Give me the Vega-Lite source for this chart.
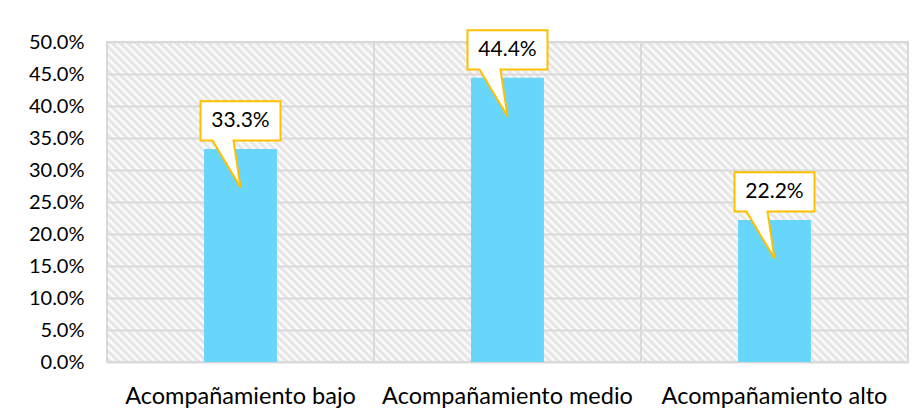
{
  "$schema": "https://vega.github.io/schema/vega-lite/v6.json",
  "width": 801,
  "height": 320,
  "autosize": {"type": "none"},
  "padding": {"left": 107, "top": 42, "right": 15, "bottom": 57},
  "background": "white",
  "config": {
    "view": {
      "stroke": "#d9d9d9",
      "strokeWidth": 2,
      "fill": {
        "gradient": "linear", "x1": 0, "y1": 1, "x2": 1.2069, "y2": 0.51785,
        "stops": [
          {"offset":0,"color":"#fff"},{"offset":0.00357,"color":"#e0e0e0"},{"offset":0.00714,"color":"#fff"},{"offset":0.01071,"color":"#e0e0e0"},{"offset":0.01429,"color":"#fff"},{"offset":0.01786,"color":"#e0e0e0"},{"offset":0.02143,"color":"#fff"},
          {"offset":0.025,"color":"#e0e0e0"},{"offset":0.02857,"color":"#fff"},{"offset":0.03214,"color":"#e0e0e0"},{"offset":0.03571,"color":"#fff"},{"offset":0.03929,"color":"#e0e0e0"},{"offset":0.04286,"color":"#fff"},{"offset":0.04643,"color":"#e0e0e0"},
          {"offset":0.05,"color":"#fff"},{"offset":0.05357,"color":"#e0e0e0"},{"offset":0.05714,"color":"#fff"},{"offset":0.06071,"color":"#e0e0e0"},{"offset":0.06429,"color":"#fff"},{"offset":0.06786,"color":"#e0e0e0"},{"offset":0.07143,"color":"#fff"},
          {"offset":0.075,"color":"#e0e0e0"},{"offset":0.07857,"color":"#fff"},{"offset":0.08214,"color":"#e0e0e0"},{"offset":0.08571,"color":"#fff"},{"offset":0.08929,"color":"#e0e0e0"},{"offset":0.09286,"color":"#fff"},{"offset":0.09643,"color":"#e0e0e0"},
          {"offset":0.1,"color":"#fff"},{"offset":0.10357,"color":"#e0e0e0"},{"offset":0.10714,"color":"#fff"},{"offset":0.11071,"color":"#e0e0e0"},{"offset":0.11429,"color":"#fff"},{"offset":0.11786,"color":"#e0e0e0"},{"offset":0.12143,"color":"#fff"},
          {"offset":0.125,"color":"#e0e0e0"},{"offset":0.12857,"color":"#fff"},{"offset":0.13214,"color":"#e0e0e0"},{"offset":0.13571,"color":"#fff"},{"offset":0.13929,"color":"#e0e0e0"},{"offset":0.14286,"color":"#fff"},{"offset":0.14643,"color":"#e0e0e0"},
          {"offset":0.15,"color":"#fff"},{"offset":0.15357,"color":"#e0e0e0"},{"offset":0.15714,"color":"#fff"},{"offset":0.16071,"color":"#e0e0e0"},{"offset":0.16429,"color":"#fff"},{"offset":0.16786,"color":"#e0e0e0"},{"offset":0.17143,"color":"#fff"},
          {"offset":0.175,"color":"#e0e0e0"},{"offset":0.17857,"color":"#fff"},{"offset":0.18214,"color":"#e0e0e0"},{"offset":0.18571,"color":"#fff"},{"offset":0.18929,"color":"#e0e0e0"},{"offset":0.19286,"color":"#fff"},{"offset":0.19643,"color":"#e0e0e0"},
          {"offset":0.2,"color":"#fff"},{"offset":0.20357,"color":"#e0e0e0"},{"offset":0.20714,"color":"#fff"},{"offset":0.21071,"color":"#e0e0e0"},{"offset":0.21429,"color":"#fff"},{"offset":0.21786,"color":"#e0e0e0"},{"offset":0.22143,"color":"#fff"},
          {"offset":0.225,"color":"#e0e0e0"},{"offset":0.22857,"color":"#fff"},{"offset":0.23214,"color":"#e0e0e0"},{"offset":0.23571,"color":"#fff"},{"offset":0.23929,"color":"#e0e0e0"},{"offset":0.24286,"color":"#fff"},{"offset":0.24643,"color":"#e0e0e0"},
          {"offset":0.25,"color":"#fff"},{"offset":0.25357,"color":"#e0e0e0"},{"offset":0.25714,"color":"#fff"},{"offset":0.26071,"color":"#e0e0e0"},{"offset":0.26429,"color":"#fff"},{"offset":0.26786,"color":"#e0e0e0"},{"offset":0.27143,"color":"#fff"},
          {"offset":0.275,"color":"#e0e0e0"},{"offset":0.27857,"color":"#fff"},{"offset":0.28214,"color":"#e0e0e0"},{"offset":0.28571,"color":"#fff"},{"offset":0.28929,"color":"#e0e0e0"},{"offset":0.29286,"color":"#fff"},{"offset":0.29643,"color":"#e0e0e0"},
          {"offset":0.3,"color":"#fff"},{"offset":0.30357,"color":"#e0e0e0"},{"offset":0.30714,"color":"#fff"},{"offset":0.31071,"color":"#e0e0e0"},{"offset":0.31429,"color":"#fff"},{"offset":0.31786,"color":"#e0e0e0"},{"offset":0.32143,"color":"#fff"},
          {"offset":0.325,"color":"#e0e0e0"},{"offset":0.32857,"color":"#fff"},{"offset":0.33214,"color":"#e0e0e0"},{"offset":0.33571,"color":"#fff"},{"offset":0.33929,"color":"#e0e0e0"},{"offset":0.34286,"color":"#fff"},{"offset":0.34643,"color":"#e0e0e0"},
          {"offset":0.35,"color":"#fff"},{"offset":0.35357,"color":"#e0e0e0"},{"offset":0.35714,"color":"#fff"},{"offset":0.36071,"color":"#e0e0e0"},{"offset":0.36429,"color":"#fff"},{"offset":0.36786,"color":"#e0e0e0"},{"offset":0.37143,"color":"#fff"},
          {"offset":0.375,"color":"#e0e0e0"},{"offset":0.37857,"color":"#fff"},{"offset":0.38214,"color":"#e0e0e0"},{"offset":0.38571,"color":"#fff"},{"offset":0.38929,"color":"#e0e0e0"},{"offset":0.39286,"color":"#fff"},{"offset":0.39643,"color":"#e0e0e0"},
          {"offset":0.4,"color":"#fff"},{"offset":0.40357,"color":"#e0e0e0"},{"offset":0.40714,"color":"#fff"},{"offset":0.41071,"color":"#e0e0e0"},{"offset":0.41429,"color":"#fff"},{"offset":0.41786,"color":"#e0e0e0"},{"offset":0.42143,"color":"#fff"},
          {"offset":0.425,"color":"#e0e0e0"},{"offset":0.42857,"color":"#fff"},{"offset":0.43214,"color":"#e0e0e0"},{"offset":0.43571,"color":"#fff"},{"offset":0.43929,"color":"#e0e0e0"},{"offset":0.44286,"color":"#fff"},{"offset":0.44643,"color":"#e0e0e0"},
          {"offset":0.45,"color":"#fff"},{"offset":0.45357,"color":"#e0e0e0"},{"offset":0.45714,"color":"#fff"},{"offset":0.46071,"color":"#e0e0e0"},{"offset":0.46429,"color":"#fff"},{"offset":0.46786,"color":"#e0e0e0"},{"offset":0.47143,"color":"#fff"},
          {"offset":0.475,"color":"#e0e0e0"},{"offset":0.47857,"color":"#fff"},{"offset":0.48214,"color":"#e0e0e0"},{"offset":0.48571,"color":"#fff"},{"offset":0.48929,"color":"#e0e0e0"},{"offset":0.49286,"color":"#fff"},{"offset":0.49643,"color":"#e0e0e0"},
          {"offset":0.5,"color":"#fff"},{"offset":0.50357,"color":"#e0e0e0"},{"offset":0.50714,"color":"#fff"},{"offset":0.51071,"color":"#e0e0e0"},{"offset":0.51429,"color":"#fff"},{"offset":0.51786,"color":"#e0e0e0"},{"offset":0.52143,"color":"#fff"},
          {"offset":0.525,"color":"#e0e0e0"},{"offset":0.52857,"color":"#fff"},{"offset":0.53214,"color":"#e0e0e0"},{"offset":0.53571,"color":"#fff"},{"offset":0.53929,"color":"#e0e0e0"},{"offset":0.54286,"color":"#fff"},{"offset":0.54643,"color":"#e0e0e0"},
          {"offset":0.55,"color":"#fff"},{"offset":0.55357,"color":"#e0e0e0"},{"offset":0.55714,"color":"#fff"},{"offset":0.56071,"color":"#e0e0e0"},{"offset":0.56429,"color":"#fff"},{"offset":0.56786,"color":"#e0e0e0"},{"offset":0.57143,"color":"#fff"},
          {"offset":0.575,"color":"#e0e0e0"},{"offset":0.57857,"color":"#fff"},{"offset":0.58214,"color":"#e0e0e0"},{"offset":0.58571,"color":"#fff"},{"offset":0.58929,"color":"#e0e0e0"},{"offset":0.59286,"color":"#fff"},{"offset":0.59643,"color":"#e0e0e0"},
          {"offset":0.6,"color":"#fff"},{"offset":0.60357,"color":"#e0e0e0"},{"offset":0.60714,"color":"#fff"},{"offset":0.61071,"color":"#e0e0e0"},{"offset":0.61429,"color":"#fff"},{"offset":0.61786,"color":"#e0e0e0"},{"offset":0.62143,"color":"#fff"},
          {"offset":0.625,"color":"#e0e0e0"},{"offset":0.62857,"color":"#fff"},{"offset":0.63214,"color":"#e0e0e0"},{"offset":0.63571,"color":"#fff"},{"offset":0.63929,"color":"#e0e0e0"},{"offset":0.64286,"color":"#fff"},{"offset":0.64643,"color":"#e0e0e0"},
          {"offset":0.65,"color":"#fff"},{"offset":0.65357,"color":"#e0e0e0"},{"offset":0.65714,"color":"#fff"},{"offset":0.66071,"color":"#e0e0e0"},{"offset":0.66429,"color":"#fff"},{"offset":0.66786,"color":"#e0e0e0"},{"offset":0.67143,"color":"#fff"},
          {"offset":0.675,"color":"#e0e0e0"},{"offset":0.67857,"color":"#fff"},{"offset":0.68214,"color":"#e0e0e0"},{"offset":0.68571,"color":"#fff"},{"offset":0.68929,"color":"#e0e0e0"},{"offset":0.69286,"color":"#fff"},{"offset":0.69643,"color":"#e0e0e0"},
          {"offset":0.7,"color":"#fff"},{"offset":0.70357,"color":"#e0e0e0"},{"offset":0.70714,"color":"#fff"},{"offset":0.71071,"color":"#e0e0e0"},{"offset":0.71429,"color":"#fff"},{"offset":0.71786,"color":"#e0e0e0"},{"offset":0.72143,"color":"#fff"},
          {"offset":0.725,"color":"#e0e0e0"},{"offset":0.72857,"color":"#fff"},{"offset":0.73214,"color":"#e0e0e0"},{"offset":0.73571,"color":"#fff"},{"offset":0.73929,"color":"#e0e0e0"},{"offset":0.74286,"color":"#fff"},{"offset":0.74643,"color":"#e0e0e0"},
          {"offset":0.75,"color":"#fff"},{"offset":0.75357,"color":"#e0e0e0"},{"offset":0.75714,"color":"#fff"},{"offset":0.76071,"color":"#e0e0e0"},{"offset":0.76429,"color":"#fff"},{"offset":0.76786,"color":"#e0e0e0"},{"offset":0.77143,"color":"#fff"},
          {"offset":0.775,"color":"#e0e0e0"},{"offset":0.77857,"color":"#fff"},{"offset":0.78214,"color":"#e0e0e0"},{"offset":0.78571,"color":"#fff"},{"offset":0.78929,"color":"#e0e0e0"},{"offset":0.79286,"color":"#fff"},{"offset":0.79643,"color":"#e0e0e0"},
          {"offset":0.8,"color":"#fff"},{"offset":0.80357,"color":"#e0e0e0"},{"offset":0.80714,"color":"#fff"},{"offset":0.81071,"color":"#e0e0e0"},{"offset":0.81429,"color":"#fff"},{"offset":0.81786,"color":"#e0e0e0"},{"offset":0.82143,"color":"#fff"},
          {"offset":0.825,"color":"#e0e0e0"},{"offset":0.82857,"color":"#fff"},{"offset":0.83214,"color":"#e0e0e0"},{"offset":0.83571,"color":"#fff"},{"offset":0.83929,"color":"#e0e0e0"},{"offset":0.84286,"color":"#fff"},{"offset":0.84643,"color":"#e0e0e0"},
          {"offset":0.85,"color":"#fff"},{"offset":0.85357,"color":"#e0e0e0"},{"offset":0.85714,"color":"#fff"},{"offset":0.86071,"color":"#e0e0e0"},{"offset":0.86429,"color":"#fff"},{"offset":0.86786,"color":"#e0e0e0"},{"offset":0.87143,"color":"#fff"},
          {"offset":0.875,"color":"#e0e0e0"},{"offset":0.87857,"color":"#fff"},{"offset":0.88214,"color":"#e0e0e0"},{"offset":0.88571,"color":"#fff"},{"offset":0.88929,"color":"#e0e0e0"},{"offset":0.89286,"color":"#fff"},{"offset":0.89643,"color":"#e0e0e0"},
          {"offset":0.9,"color":"#fff"},{"offset":0.90357,"color":"#e0e0e0"},{"offset":0.90714,"color":"#fff"},{"offset":0.91071,"color":"#e0e0e0"},{"offset":0.91429,"color":"#fff"},{"offset":0.91786,"color":"#e0e0e0"},{"offset":0.92143,"color":"#fff"},
          {"offset":0.925,"color":"#e0e0e0"},{"offset":0.92857,"color":"#fff"},{"offset":0.93214,"color":"#e0e0e0"},{"offset":0.93571,"color":"#fff"},{"offset":0.93929,"color":"#e0e0e0"},{"offset":0.94286,"color":"#fff"},{"offset":0.94643,"color":"#e0e0e0"},
          {"offset":0.95,"color":"#fff"},{"offset":0.95357,"color":"#e0e0e0"},{"offset":0.95714,"color":"#fff"},{"offset":0.96071,"color":"#e0e0e0"},{"offset":0.96429,"color":"#fff"},{"offset":0.96786,"color":"#e0e0e0"},{"offset":0.97143,"color":"#fff"},
          {"offset":0.975,"color":"#e0e0e0"},{"offset":0.97857,"color":"#fff"},{"offset":0.98214,"color":"#e0e0e0"},{"offset":0.98571,"color":"#fff"},{"offset":0.98929,"color":"#e0e0e0"},{"offset":0.99286,"color":"#fff"},{"offset":0.99643,"color":"#e0e0e0"},
          {"offset":1,"color":"#fff"}
        ]
      }
    },
    "font": "Lato"
  },
  "data": {
    "values": [
      {"cat": "Acompañamiento bajo", "pct": 0.333},
      {"cat": "Acompañamiento medio", "pct": 0.444},
      {"cat": "Acompañamiento alto", "pct": 0.222}
    ]
  },
  "encoding": {
    "x": {
      "field": "cat",
      "type": "nominal",
      "sort": null,
      "scale": {"paddingInner": 0, "paddingOuter": 0},
      "axis": {
        "title": null,
        "grid": false,
        "ticks": false,
        "domain": false,
        "labelAngle": 0,
        "labelFont": "Lato",
        "labelFontSize": 23.5,
        "labelColor": "#000000",
        "labelPadding": 22,
        "labelLimit": 400
      }
    },
    "y": {
      "field": "pct",
      "type": "quantitative",
      "scale": {"domain": [0, 0.5], "nice": false},
      "axis": {
        "title": null,
        "format": ".1%",
        "values": [0, 0.05, 0.1, 0.15, 0.2, 0.25, 0.3, 0.35, 0.4, 0.45, 0.5],
        "tickCount": 20,
        "labelOverlap": false,
        "grid": true,
        "gridColor": "#d9d9d9",
        "gridWidth": 2,
        "ticks": false,
        "domain": false,
        "labelFont": "Lato",
        "labelFontSize": 20,
        "labelColor": "#000000",
        "labelPadding": 23
      }
    }
  },
  "layer": [
    {
      "mark": {"type": "rule", "color": "#d9d9d9", "strokeWidth": 2},
      "encoding": {
        "x": {"field": "cat", "type": "nominal", "sort": null, "bandPosition": 0},
        "y": {"datum": 0},
        "y2": {"datum": 0.5}
      }
    },
    {
      "mark": {"type": "bar", "color": "#68D6FA", "width": {"band": 0.273}}
    },
    {
      "mark": {
        "type": "point",
        "shape": "M-0.8,-0.952 L0.8,-0.952 L0.8,-0.166 L-0.14,-0.166 L0,0.77 L-0.56,-0.166 L-0.8,-0.166 Z",
        "size": 10000,
        "filled": true,
        "fill": "#ffffff",
        "stroke": "#FFC000",
        "strokeWidth": 2,
        "opacity": 1,
        "fillOpacity": 1
      }
    },
    {
      "mark": {"type": "text", "dy": -28, "baseline": "middle", "align": "center", "font": "Lato", "fontSize": 21, "color": "#000000"},
      "encoding": {
        "text": {"field": "pct", "type": "quantitative", "format": ".1%"}
      }
    }
  ]
}
